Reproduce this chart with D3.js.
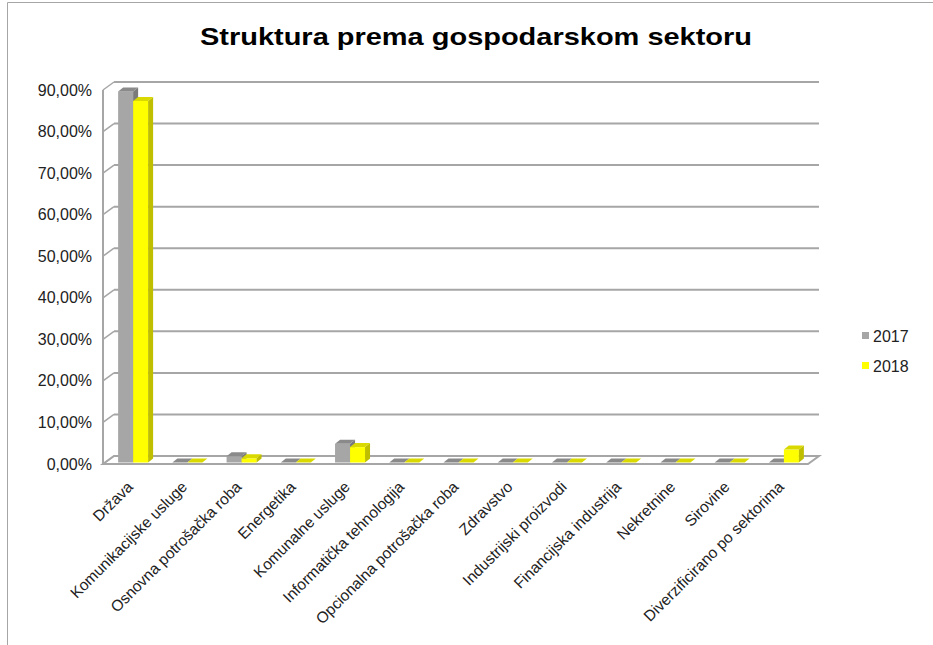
<!DOCTYPE html>
<html>
<head>
<meta charset="utf-8">
<script src="https://cdn.jsdelivr.net/npm/d3@7"></script>
<style>
  body { margin: 0; background: #fff; }
  text { font-family: "Liberation Sans", Arial, sans-serif; fill: #222; }
</style>
</head>
<body>
<div id="chart"></div>
<script>
var categories = ['Država', 'Komunikacijske usluge', 'Osnovna potrošačka roba', 'Energetika',
  'Komunalne usluge', 'Informatička tehnologija', 'Opcionalna potrošačka roba', 'Zdravstvo',
  'Industrijski proizvodi', 'Financijska industrija', 'Nekretnine', 'Sirovine',
  'Diverzificirano po sektorima'];
var seriesNames = ['2017', '2018'];
var values2017 = [89.3, 0, 1.5, 0, 4.5, 0, 0, 0, 0, 0, 0, 0, 0];
var values2018 = [87.0, 0, 1.0, 0, 3.7, 0, 0, 0, 0, 0, 0, 0, 3.1];
var yTicks = [0, 10, 20, 30, 40, 50, 60, 70, 80, 90];

var width = 933, height = 645;
var left = 103, right = 808;
// 3d depth of the wall/floor and of the bars
var wallDx = 11, wallDy = -8;
var barDx = 5, barDy = -4;

var svg = d3.select('#chart').append('svg')
  .attr('width', width)
  .attr('height', height);

// outer border
svg.append('path')
  .attr('d', 'M7.5,645 L7.5,2.5 L933,2.5')
  .attr('fill', 'none')
  .attr('stroke', '#a6a6a6')
  .attr('stroke-width', 1);

// Title
svg.append('text')
  .attr('x', 476)
  .attr('y', 45)
  .attr('text-anchor', 'middle')
  .attr('font-size', 24)
  .attr('font-weight', 'bold')
  .attr('textLength', 552)
  .attr('lengthAdjust', 'spacingAndGlyphs')
  .style('fill', '#000')
  .text('Struktura prema gospodarskom sektoru');

var yScale = d3.scaleLinear().domain([0, 90]).range([464, 90]);
var xScale = d3.scaleBand().domain(categories).range([left, right]);
var sScale = d3.scaleBand().domain(seriesNames).range([0, 30]);

// Floor
svg.append('polygon')
  .attr('points', [[left, 464], [right, 464], [right + wallDx, 464 + wallDy], [left + wallDx, 464 + wallDy]].join(' '))
  .attr('fill', '#fff')
  .attr('stroke', '#a6a6a6')
  .attr('stroke-width', 2);

// Back wall gridlines
var grid = svg.append('g');
yTicks.slice(1).forEach(function (t) {
  grid.append('line')
    .attr('x1', left + wallDx).attr('x2', right + wallDx)
    .attr('y1', yScale(t) + wallDy).attr('y2', yScale(t) + wallDy)
    .attr('stroke', '#a6a6a6').attr('stroke-width', 2);
});
// Left wall edge with diagonal ticks
svg.append('line')
  .attr('x1', left).attr('x2', left)
  .attr('y1', yScale(0)).attr('y2', yScale(90))
  .attr('stroke', '#a6a6a6').attr('stroke-width', 2);
yTicks.forEach(function (t) {
  svg.append('line')
    .attr('x1', left).attr('x2', left + wallDx)
    .attr('y1', yScale(t)).attr('y2', yScale(t) + wallDy)
    .attr('stroke', '#a6a6a6').attr('stroke-width', 1.5);
});

// Y labels
svg.append('g').selectAll('text')
  .data(yTicks)
  .enter()
  .append('text')
  .attr('x', 92)
  .attr('y', function (t) { return yScale(t); })
  .attr('dy', '0.35em')
  .attr('text-anchor', 'end')
  .attr('font-size', 16)
  .text(function (t) { return t.toFixed(2).replace('.', ',') + '%'; });

// Bars
var colors = {
  '2017': { front: '#a6a6a6', top: '#8a8a8a', side: '#7a7a7a' },
  '2018': { front: '#ffff00', top: '#d9d900', side: '#bfbf00' }
};
var barData = [];
categories.forEach(function (c, i) {
  barData.push({ cat: c, s: '2017', v: values2017[i] });
  barData.push({ cat: c, s: '2018', v: values2018[i] });
});

var bars = svg.append('g');
var bw = sScale.bandwidth();
barData.forEach(function (d) {
  var x = xScale(d.cat) + (xScale.bandwidth() - 30) / 2 + sScale(d.s) + 3;
  var yb = yScale(0) - 1.5;
  var yt = yScale(d.v) - 1.5;
  var col = colors[d.s];
  if (d.v > 0) {
    bars.append('rect')
      .attr('x', x).attr('y', yt)
      .attr('width', bw).attr('height', yb - yt)
      .attr('fill', col.front);
    bars.append('polygon')
      .attr('points', [[x + bw, yt], [x + bw + barDx, yt + barDy], [x + bw + barDx, yb + barDy], [x + bw, yb]].join(' '))
      .attr('fill', col.side);
  }
  bars.append('polygon')
    .attr('points', [[x, yt], [x + bw, yt], [x + bw + barDx, yt + barDy], [x + barDx, yt + barDy]].join(' '))
    .attr('fill', col.top);
});

// X labels
svg.append('g').selectAll('text')
  .data(categories)
  .enter()
  .append('text')
  .attr('transform', function (c) {
    return 'translate(' + (xScale(c) + xScale.bandwidth() / 2) + ',484)rotate(-45)';
  })
  .attr('text-anchor', 'end')
  .attr('dy', '0.35em')
  .attr('font-size', 15.5)
  .text(function (c) { return c; });

// Legend
var legend = svg.append('g');
seriesNames.forEach(function (s, i) {
  legend.append('rect')
    .attr('x', 862).attr('y', 332 + i * 30)
    .attr('width', 7).attr('height', 7)
    .attr('fill', colors[s].front);
  legend.append('text')
    .attr('x', 873).attr('y', 336 + i * 30)
    .attr('dy', '0.35em')
    .attr('font-size', 16)
    .text(s);
});
</script>
</body>
</html>
